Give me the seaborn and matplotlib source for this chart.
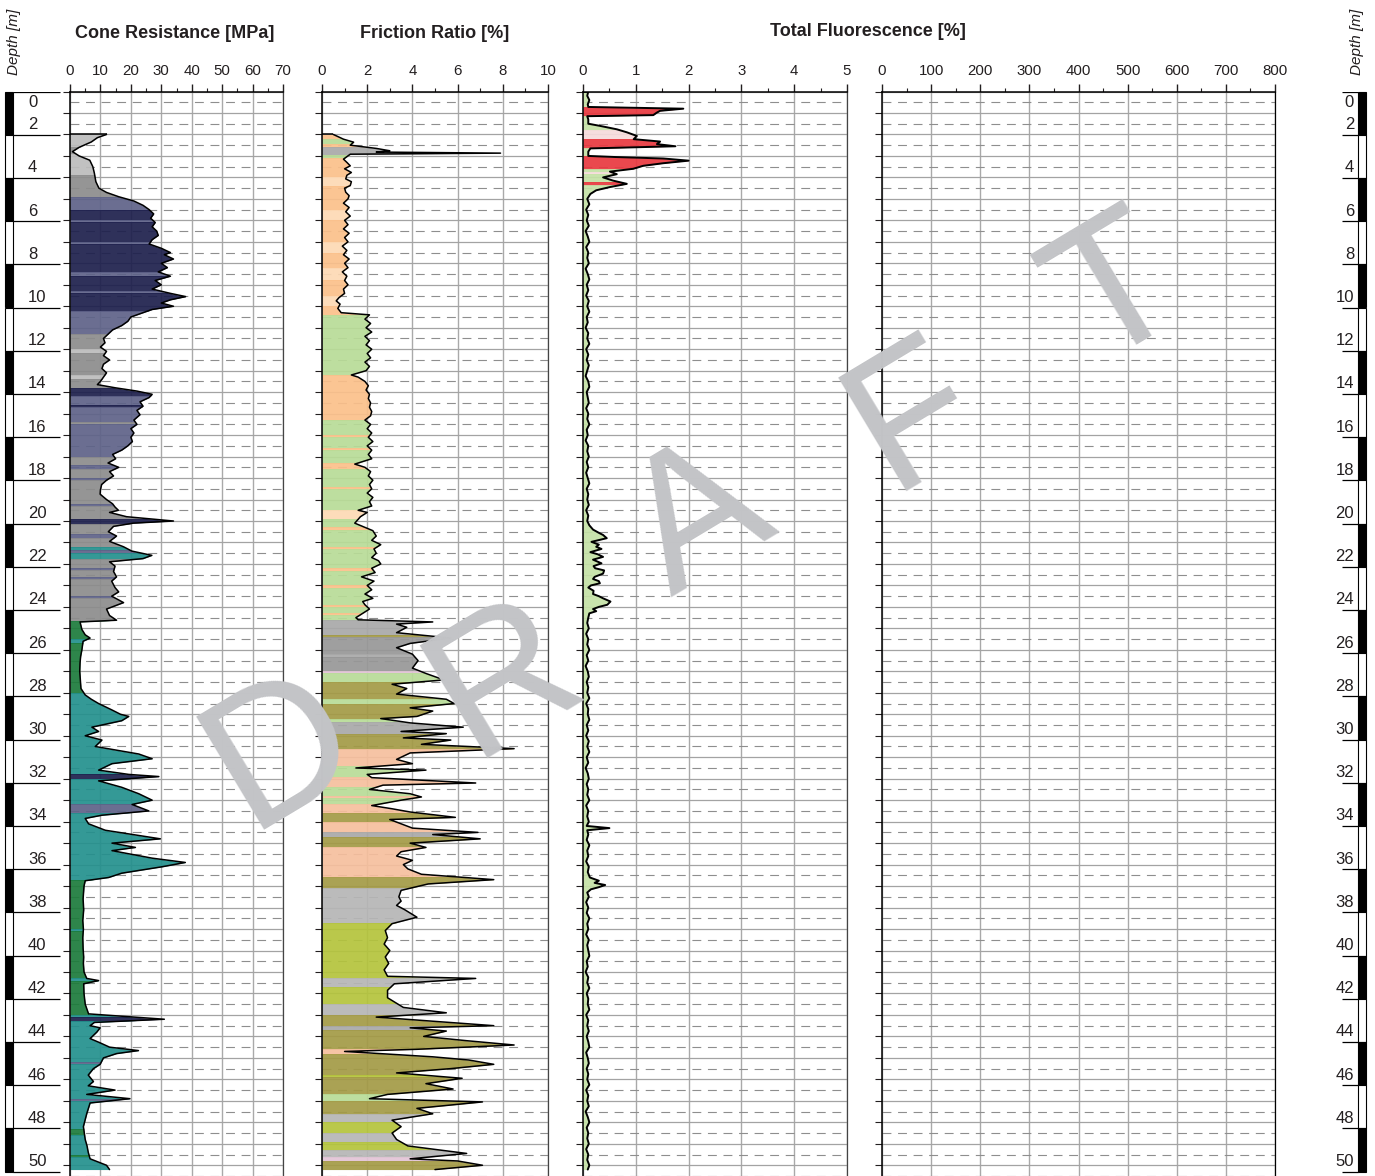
import numpy as np
import pandas as pd
import matplotlib
matplotlib.use("Agg")
import matplotlib.pyplot as plt
from matplotlib.patches import Rectangle
import seaborn as sns

# ---------------- DATA ----------------
depth_labels = list(range(0, 51, 2))
cone_ticks = [0, 10, 20, 30, 40, 50, 60, 70]
fr_ticks = [0, 2, 4, 6, 8, 10]
fl_ticks = [0, 1, 2, 3, 4, 5]
uv_ticks = [0, 100, 200, 300, 400, 500, 600, 700, 800]

titles = ["Cone Resistance [MPa]", "Friction Ratio [%]", "Total Fluorescence [%]"]

# (depth m, cone resistance MPa)
cone_readings = [
    (2.0, 12), (2.15, 9), (2.35, 7), (2.6, 3), (2.8, 0.8), (3.0, 3), (3.2, 6.5), (3.5, 7.5),
    (3.8, 8), (4.2, 8.5), (4.5, 9.5), (4.7, 12), (4.9, 16), (5.1, 21), (5.3, 24), (5.5, 26),
    (5.7, 27.5), (5.9, 26.5), (6.1, 28), (6.3, 27), (6.5, 28.5), (6.7, 29), (6.9, 27), (7.1, 26),
    (7.3, 30), (7.5, 33), (7.6, 31), (7.8, 34), (8.0, 30), (8.2, 32), (8.4, 29), (8.6, 33),
    (8.8, 28), (9.0, 30), (9.2, 27), (9.4, 33), (9.55, 38), (9.7, 33), (9.85, 30), (10.0, 34),
    (10.15, 27), (10.3, 24), (10.5, 20), (10.7, 19), (10.9, 17), (11.1, 14), (11.3, 12.5),
    (11.5, 11), (11.7, 11.5), (11.9, 10), (12.1, 12), (12.3, 11), (12.5, 13), (12.7, 11),
    (12.9, 10.5), (13.1, 12), (13.3, 11), (13.5, 10), (13.65, 9), (13.8, 15), (13.95, 22),
    (14.1, 27), (14.25, 26), (14.45, 23), (14.65, 24), (14.85, 22), (15.05, 23), (15.3, 21),
    (15.5, 22), (15.7, 20), (15.9, 21), (16.1, 20), (16.3, 20.5), (16.5, 19), (16.7, 17),
    (16.9, 14), (17.1, 15), (17.3, 12.5), (17.5, 16), (17.7, 13), (17.9, 14.3), (18.1, 12),
    (18.3, 10.4), (18.55, 10), (18.75, 9.9), (19.0, 12), (19.2, 14), (19.35, 14.8), (19.5, 15.9),
    (19.6, 13), (19.8, 18.6), (20.0, 34), (20.1, 20.8), (20.25, 14.3), (20.5, 12.6), (20.7, 15.3),
    (20.95, 13), (21.2, 17.6), (21.4, 20.3), (21.6, 26.9), (21.75, 24), (21.9, 13), (22.1, 14.8),
    (22.35, 14.3), (22.6, 15.3), (22.8, 13.7), (23.1, 14.8), (23.3, 16), (23.5, 13.7), (23.8, 17.6),
    (24.1, 12), (24.4, 13), (24.62, 15.3), (24.7, 3.3), (25.05, 3.9), (25.3, 5), (25.45, 6.6),
    (25.6, 4.3), (26.0, 3.9), (26.3, 3.5), (26.6, 3.3), (27.0, 3.2), (27.4, 3.4), (27.8, 3.6),
    (28.1, 5), (28.3, 7), (28.5, 9.4), (28.8, 13.8), (29.0, 16.6), (29.1, 19.3), (29.3, 17),
    (29.6, 7.2), (29.8, 9.4), (30.0, 5), (30.2, 10.5), (30.5, 8.3), (30.85, 22.6), (31.07, 27),
    (31.3, 13.8), (31.6, 9.4), (31.8, 19.3), (31.9, 29.2), (32.1, 9.4), (32.4, 17), (32.7, 22.6),
    (33.0, 27), (33.2, 20.4), (33.5, 25.9), (33.7, 10.5), (33.85, 5), (34.1, 6.1), (34.4, 11.6),
    (34.8, 29.7), (35.0, 13.8), (35.2, 21.5), (35.35, 13.8), (35.7, 27), (35.9, 37.9), (36.1, 30.3),
    (36.4, 17), (36.6, 12.7), (36.75, 5), (37.0, 4.6), (37.2, 4.5), (37.6, 4.3), (38.1, 4.5),
    (38.6, 4.2), (39.0, 4.4), (39.4, 4.2), (39.9, 4.3), (40.3, 4.5), (40.6, 4.4), (41.0, 4.6),
    (41.3, 5.5), (41.4, 9.4), (41.55, 4.5), (42.0, 4.6), (42.5, 5), (42.95, 6.1), (43.2, 31),
    (43.35, 8), (43.5, 6.6), (43.6, 9.9), (43.8, 8.8), (44.1, 6.6), (44.3, 9.9), (44.5, 13),
    (44.66, 22.5), (44.8, 15.3), (45.0, 11), (45.3, 9.9), (45.5, 7.7), (45.8, 6), (46.1, 7.7),
    (46.3, 6), (46.5, 14.8), (46.7, 5.5), (46.9, 19.7), (47.1, 6.6), (47.6, 5.5), (48.2, 4.4),
    (48.8, 5), (49.1, 5.6), (49.4, 6), (49.7, 6.6), (50.0, 12), (50.2, 13),
]

# (depth m, friction ratio %)
friction_readings = [
    (2.0, 0.5), (2.1, 0.7), (2.22, 0.95), (2.36, 1.4), (2.5, 1.25), (2.65, 2.4), (2.76, 3.0),
    (2.82, 2.4), (2.87, 7.9), (2.92, 1.25), (3.15, 0.95), (3.3, 1.1), (3.46, 1.25), (3.6, 1.0),
    (3.77, 1.3), (3.9, 1.1), (4.07, 1.05), (4.2, 1.3), (4.38, 1.25), (4.5, 1.0), (4.69, 1.05),
    (4.85, 1.2), (5.0, 1.15), (5.2, 0.95), (5.4, 1.2), (5.6, 1.05), (5.8, 1.25), (6.0, 1.0),
    (6.2, 1.15), (6.4, 0.95), (6.6, 1.2), (6.8, 1.0), (7.0, 1.15), (7.2, 0.9), (7.4, 1.1),
    (7.6, 0.95), (7.8, 1.2), (8.0, 1.0), (8.2, 1.15), (8.4, 0.9), (8.6, 1.1), (8.8, 1.0),
    (9.0, 1.15), (9.2, 0.95), (9.4, 1.0), (9.6, 0.75), (9.75, 0.63), (9.9, 0.8), (10.1, 0.7),
    (10.3, 0.85), (10.4, 2.1), (10.6, 1.9), (10.8, 2.15), (11.0, 1.95), (11.2, 2.2), (11.4, 1.9),
    (11.6, 2.1), (11.8, 1.95), (12.0, 2.2), (12.2, 2.0), (12.4, 2.15), (12.6, 1.9), (12.8, 2.1),
    (13.0, 1.95), (13.2, 1.3), (13.3, 1.6), (13.5, 1.9), (13.7, 2.05), (13.9, 1.95), (14.1, 2.1),
    (14.3, 2.05), (14.5, 2.15), (14.7, 2.1), (14.9, 2.2), (15.1, 2.15), (15.3, 1.9), (15.5, 2.15),
    (15.7, 2.0), (15.9, 2.2), (16.1, 2.05), (16.3, 2.25), (16.5, 2.0), (16.7, 2.2), (16.9, 2.05),
    (17.1, 2.2), (17.35, 1.45), (17.5, 1.9), (17.7, 2.15), (17.9, 2.05), (18.1, 2.25), (18.3, 2.1),
    (18.5, 2.2), (18.7, 2.0), (18.9, 2.25), (19.1, 2.1), (19.3, 2.2), (19.5, 1.6), (19.6, 2.0),
    (19.8, 1.7), (20.1, 1.45), (20.3, 1.9), (20.45, 2.25), (20.7, 2.4), (20.9, 2.2), (21.1, 2.6),
    (21.3, 2.3), (21.5, 2.4), (21.7, 2.2), (21.85, 2.5), (22.0, 2.6), (22.2, 2.2), (22.4, 2.35),
    (22.6, 1.75), (22.8, 2.3), (23.0, 2.0), (23.2, 2.2), (23.4, 1.9), (23.6, 2.25), (23.75, 1.8),
    (23.9, 1.9), (24.1, 2.1), (24.3, 1.8), (24.5, 1.5), (24.6, 1.6), (24.7, 4.9), (24.8, 3.3),
    (24.95, 3.75), (25.2, 3.3), (25.45, 5.7), (25.7, 3.9), (25.9, 3.3), (26.2, 4.0), (26.5, 4.25),
    (26.85, 4.0), (27.1, 4.6), (27.4, 5.4), (27.6, 3.1), (27.8, 3.75), (28.06, 3.3), (28.3, 5.5),
    (28.5, 5.85), (28.7, 3.9), (28.85, 4.9), (29.1, 4.2), (29.2, 2.6), (29.4, 3.9), (29.6, 6.25),
    (29.8, 3.5), (29.9, 5.5), (30.1, 3.6), (30.2, 5.7), (30.4, 4.4), (30.6, 8.5), (30.8, 3.9),
    (31.1, 3.3), (31.3, 4.0), (31.5, 1.5), (31.6, 4.6), (31.8, 2.0), (31.95, 2.2), (32.2, 6.8),
    (32.3, 2.7), (32.5, 2.1), (32.7, 3.9), (32.85, 4.4), (33.0, 3.5), (33.25, 2.2), (33.4, 3.1),
    (33.55, 3.9), (33.8, 5.9), (33.9, 3.0), (34.1, 3.5), (34.3, 4.0), (34.5, 6.9), (34.6, 4.9),
    (34.8, 7.0), (35.0, 3.9), (35.2, 4.6), (35.4, 3.5), (35.6, 3.3), (35.8, 4.0), (36.0, 3.6),
    (36.2, 3.8), (36.45, 4.4), (36.7, 7.6), (36.9, 4.7), (37.2, 3.5), (37.5, 3.4), (37.7, 3.5),
    (37.9, 3.3), (38.1, 3.66), (38.45, 4.2), (38.75, 3.1), (39.07, 2.8), (39.4, 2.9), (39.7, 2.75),
    (40.0, 3.0), (40.3, 2.8), (40.6, 2.95), (40.9, 2.75), (41.2, 2.9), (41.3, 6.8), (41.55, 3.2),
    (41.85, 2.9), (42.2, 2.9), (42.65, 3.6), (42.9, 5.5), (43.1, 2.4), (43.5, 7.6), (43.6, 3.9),
    (43.75, 5.5), (44.0, 4.5), (44.2, 6.4), (44.4, 8.5), (44.6, 4.2), (44.7, 1.0), (44.95, 4.9),
    (45.1, 6.5), (45.3, 7.6), (45.5, 5.7), (45.7, 3.3), (45.95, 6.2), (46.2, 4.6), (46.45, 5.8),
    (46.7, 2.9), (46.9, 2.1), (47.05, 7.1), (47.35, 4.2), (47.6, 4.9), (47.9, 3.1), (48.2, 3.5),
    (48.5, 3.1), (48.8, 3.3), (49.1, 3.8), (49.45, 6.4), (49.7, 3.9), (49.8, 6.0), (50.0, 7.1),
    (50.2, 5.0),
]

# (depth m, total fluorescence %)
fluor_readings = [
    (0.0, 0.1), (0.2, 0.08), (0.4, 0.12), (0.6, 0.09), (0.72, 0.1), (0.8, 1.9), (0.9, 1.46),
    (0.98, 1.4), (1.1, 1.33), (1.15, 0.08), (1.3, 0.1), (1.5, 0.1), (1.6, 0.32), (1.76, 0.64),
    (1.9, 0.83), (2.07, 1.02), (2.22, 0.96), (2.33, 1.46), (2.45, 1.4), (2.55, 1.75), (2.65, 0.14),
    (2.8, 0.1), (3.0, 0.1), (3.05, 0.6), (3.12, 1.52), (3.22, 2.0), (3.34, 1.52), (3.46, 1.14),
    (3.6, 0.95), (3.73, 0.51), (3.85, 0.64), (4.0, 0.38), (4.15, 0.57), (4.3, 0.83), (4.45, 0.51),
    (4.6, 0.25), (4.77, 0.14),
    (5.0, 0.08), (5.25, 0.12), (5.5, 0.06), (5.75, 0.1), (6.0, 0.07), (6.25, 0.11), (6.5, 0.05),
    (6.75, 0.09), (7.0, 0.12), (7.25, 0.06), (7.5, 0.1), (7.75, 0.08), (8.0, 0.11), (8.25, 0.05),
    (8.5, 0.09), (8.75, 0.12), (9.0, 0.07), (9.25, 0.1), (9.5, 0.06), (9.75, 0.11), (10.0, 0.08),
    (10.25, 0.12), (10.5, 0.07), (10.75, 0.09), (11.0, 0.05), (11.25, 0.1), (11.5, 0.08),
    (11.75, 0.12), (12.0, 0.06), (12.25, 0.1), (12.5, 0.07), (12.75, 0.11), (13.0, 0.08),
    (13.25, 0.05), (13.5, 0.1), (13.75, 0.12), (14.0, 0.07), (14.25, 0.09), (14.5, 0.11),
    (14.75, 0.06), (15.0, 0.1), (15.25, 0.08), (15.5, 0.12), (15.75, 0.07), (16.0, 0.09),
    (16.25, 0.05), (16.5, 0.1), (16.75, 0.08), (17.0, 0.11), (17.25, 0.07), (17.5, 0.1),
    (17.75, 0.06), (18.0, 0.09), (18.25, 0.12), (18.5, 0.07), (18.75, 0.1), (19.0, 0.08),
    (19.25, 0.11), (19.5, 0.06), (19.75, 0.1), (20.0, 0.08), (20.2, 0.12),
    (20.4, 0.19), (20.55, 0.3), (20.65, 0.38), (20.8, 0.45), (20.97, 0.16), (21.1, 0.3),
    (21.2, 0.25), (21.3, 0.35), (21.45, 0.14), (21.55, 0.28), (21.67, 0.38), (21.8, 0.19),
    (21.97, 0.35), (22.1, 0.2), (22.2, 0.23), (22.3, 0.4), (22.45, 0.38), (22.6, 0.22),
    (22.7, 0.19), (22.8, 0.3), (22.9, 0.32), (23.0, 0.15), (23.1, 0.1), (23.25, 0.2),
    (23.4, 0.19), (23.5, 0.3), (23.6, 0.38), (23.75, 0.52), (23.9, 0.46), (24.0, 0.3),
    (24.1, 0.19), (24.2, 0.25), (24.3, 0.12), (24.5, 0.1), (24.75, 0.08),
    (25.0, 0.11), (25.25, 0.06), (25.5, 0.1), (25.75, 0.08), (26.0, 0.12), (26.25, 0.07),
    (26.5, 0.1), (26.75, 0.05), (27.0, 0.09), (27.25, 0.11), (27.5, 0.07), (27.75, 0.1),
    (28.0, 0.08), (28.25, 0.12), (28.5, 0.06), (28.75, 0.1), (29.0, 0.09), (29.25, 0.12),
    (29.5, 0.07), (29.75, 0.1), (30.0, 0.06), (30.25, 0.11), (30.5, 0.08), (30.75, 0.12),
    (31.0, 0.07), (31.25, 0.1), (31.5, 0.05), (31.75, 0.09), (32.0, 0.11), (32.25, 0.07),
    (32.5, 0.1), (32.75, 0.08), (33.0, 0.12), (33.25, 0.06), (33.5, 0.1), (33.75, 0.08),
    (34.0, 0.11), (34.2, 0.07), (34.3, 0.5), (34.4, 0.08), (34.6, 0.1), (34.85, 0.07),
    (35.1, 0.12), (35.35, 0.08), (35.6, 0.1), (35.85, 0.06), (36.1, 0.11), (36.35, 0.09),
    (36.6, 0.13), (36.75, 0.3), (36.85, 0.22), (36.95, 0.42), (37.05, 0.3), (37.15, 0.15),
    (37.3, 0.08), (37.5, 0.11), (37.75, 0.06), (38.0, 0.1), (38.25, 0.07), (38.5, 0.12),
    (38.75, 0.08), (39.0, 0.1), (39.25, 0.06), (39.5, 0.11), (39.75, 0.08), (40.0, 0.1),
    (40.25, 0.12), (40.5, 0.07), (40.75, 0.09), (41.0, 0.05), (41.25, 0.1), (41.5, 0.08),
    (41.75, 0.12), (42.0, 0.07), (42.25, 0.1), (42.5, 0.09), (42.75, 0.12), (43.0, 0.06),
    (43.25, 0.1), (43.5, 0.08), (43.75, 0.11), (44.0, 0.07), (44.25, 0.1), (44.5, 0.12),
    (44.75, 0.06), (45.0, 0.09), (45.25, 0.11), (45.5, 0.07), (45.75, 0.1), (46.0, 0.08),
    (46.25, 0.12), (46.5, 0.06), (46.75, 0.1), (47.0, 0.08), (47.25, 0.11), (47.5, 0.05),
    (47.75, 0.09), (48.0, 0.12), (48.25, 0.07), (48.5, 0.1), (48.75, 0.08), (49.0, 0.11),
    (49.25, 0.06), (49.5, 0.1), (49.75, 0.08), (50.0, 0.12), (50.2, 0.09),
]

# soil-behaviour zones (top m, base m, class) for each track
cone_zones = [
    (2.0, 2.6, "silt_l"), (2.6, 2.9, "silt"), (2.9, 3.9, "silt_l"), (3.9, 4.9, "silt"),
    (4.9, 5.5, "sand_mix"), (5.5, 6.0, "sand"), (6.0, 6.1, "sand_mix"), (6.1, 7.0, "sand"),
    (7.0, 7.1, "sand_mix"), (7.1, 8.4, "sand"), (8.4, 8.6, "sand_mix"), (8.6, 9.3, "sand"),
    (9.3, 9.4, "sand_mix"), (9.4, 10.2, "sand"), (10.2, 11.3, "sand_mix"), (11.3, 12.0, "silt"),
    (12.0, 12.2, "silt_l"), (12.2, 13.2, "silt"), (13.2, 13.4, "silt_l"), (13.4, 13.8, "silt"),
    (13.8, 14.2, "sand"), (14.2, 14.6, "sand_mix"), (14.6, 14.7, "sand"), (14.7, 15.4, "sand_mix"),
    (15.4, 15.5, "silt"), (15.5, 17.0, "sand_mix"), (17.0, 17.4, "silt"), (17.4, 17.6, "sand_mix"),
    (17.6, 18.0, "silt"), (18.0, 18.1, "sand_mix"), (18.1, 19.2, "silt"), (19.2, 19.3, "sand_mix"),
    (19.3, 19.9, "silt"), (19.9, 20.15, "sand"), (20.15, 20.6, "silt"), (20.6, 20.8, "sand_mix"),
    (20.8, 21.2, "silt"), (21.2, 21.35, "silty_clay"), (21.35, 21.5, "sand_mix"),
    (21.5, 21.75, "silty_clay"), (21.75, 22.2, "silt"), (22.2, 22.3, "sand_mix"), (22.3, 22.6, "silt"),
    (22.6, 22.7, "sand_mix"), (22.7, 23.5, "silt"), (23.5, 23.6, "sand_mix"), (23.6, 24.65, "silt"),
    (24.65, 25.5, "clay"), (25.5, 25.7, "silty_clay"), (25.7, 28.0, "clay"),
    (28.0, 31.8, "silty_clay"), (31.8, 32.0, "sand"), (32.0, 33.2, "silty_clay"),
    (33.2, 33.6, "sand_mix"), (33.6, 36.7, "silty_clay"), (36.7, 39.0, "clay"),
    (39.0, 39.1, "silty_clay"), (39.1, 41.3, "clay"), (41.3, 41.4, "silty_clay"), (41.4, 43.0, "clay"),
    (43.0, 43.1, "silty_clay"), (43.1, 43.3, "sand"), (43.3, 45.2, "silty_clay"),
    (45.2, 45.3, "sand_mix"), (45.3, 46.9, "silty_clay"), (46.9, 47.0, "sand_mix"),
    (47.0, 48.3, "silty_clay"), (48.3, 48.6, "clay"), (48.6, 49.5, "silty_clay"),
    (49.5, 49.6, "clay"), (49.6, 50.3, "silty_clay"),
]

friction_zones = [
    (2.0, 2.2, "peach"), (2.2, 2.45, "green"), (2.45, 2.6, "peach"), (2.6, 2.95, "grey"),
    (2.95, 3.1, "green"), (3.1, 4.0, "peach"), (4.0, 4.4, "peach_l"), (4.4, 5.5, "peach"),
    (5.5, 6.0, "peach_l"), (6.0, 7.0, "peach"), (7.0, 7.5, "peach_l"), (7.5, 8.2, "peach"),
    (8.2, 8.8, "peach_l"), (8.8, 9.5, "peach"), (9.5, 10.0, "peach_l"), (10.0, 10.4, "peach"),
    (10.4, 13.2, "green"), (13.2, 15.3, "peach"), (15.3, 16.0, "green"), (16.0, 16.1, "peach"),
    (16.1, 16.6, "green"), (16.6, 16.7, "peach"), (16.7, 17.3, "green"), (17.3, 17.6, "peach"),
    (17.6, 18.4, "green"), (18.4, 18.5, "peach"), (18.5, 19.5, "green"), (19.5, 19.9, "peach_l"),
    (19.9, 20.3, "green"), (20.3, 20.4, "peach"), (20.4, 21.2, "green"), (21.2, 21.3, "peach"),
    (21.3, 22.2, "green"), (22.2, 22.35, "peach"), (22.35, 23.0, "green"), (23.0, 23.1, "peach"),
    (23.1, 23.9, "green"), (23.9, 24.0, "peach"), (24.0, 24.3, "green"), (24.3, 24.4, "peach"),
    (24.4, 24.6, "green"), (24.6, 25.3, "grey"), (25.3, 25.4, "olive"), (25.4, 26.2, "grey_d"),
    (26.2, 26.35, "grey"), (26.35, 27.0, "grey_d"), (27.0, 27.1, "pink"), (27.1, 27.5, "green"),
    (27.5, 28.3, "olive"), (28.3, 28.5, "green"), (28.5, 29.2, "olive"), (29.2, 29.35, "green"),
    (29.35, 29.9, "grey"), (29.9, 30.6, "olive"), (30.6, 31.4, "salmon"), (31.4, 31.9, "green"),
    (31.9, 32.4, "salmon"), (32.4, 32.8, "green"), (32.8, 32.9, "salmon"), (32.9, 33.2, "green"),
    (33.2, 33.6, "salmon"), (33.6, 34.0, "olive"), (34.0, 34.5, "salmon"), (34.5, 34.7, "grey"),
    (34.7, 35.2, "olive"), (35.2, 36.6, "salmon"), (36.6, 37.1, "olive"), (37.1, 38.7, "grey_l"),
    (38.7, 41.3, "yellowgreen"), (41.3, 41.7, "grey_l"), (41.7, 42.5, "yellowgreen"),
    (42.5, 43.0, "grey_l"), (43.0, 43.5, "olive"), (43.5, 43.7, "grey"), (43.7, 44.6, "olive"),
    (44.6, 44.8, "salmon"), (44.8, 45.8, "olive"), (45.8, 45.9, "yellowgreen"), (45.9, 46.7, "olive"),
    (46.7, 47.0, "green"), (47.0, 47.6, "olive"), (47.6, 48.0, "grey_l"), (48.0, 48.5, "yellowgreen"),
    (48.5, 48.9, "grey_l"), (48.9, 49.3, "yellowgreen"), (49.3, 49.6, "grey_l"), (49.6, 49.8, "pink"),
    (49.8, 50.3, "olive"),
]

fluor_zones = [
    (0.0, 0.72, "low"), (0.72, 1.15, "high"), (1.15, 1.8, "low"), (1.8, 2.2, "pale"),
    (2.2, 2.65, "high"), (2.65, 3.0, "low"), (3.0, 3.6, "high"), (3.6, 3.75, "low"),
    (3.75, 3.85, "pale"), (3.85, 4.2, "low"), (4.2, 4.35, "high"), (4.35, 50.3, "low"),
]

# ---------------- STYLE ----------------
cone_palette = {"sand": "#1d1f4c", "sand_mix": "#5e6288", "silt": "#8c8c8c", "silt_l": "#bcbcbc",
                "silty_clay": "#23908d", "clay": "#1c7b3b"}
friction_palette = {"peach": "#fbc08a", "peach_l": "#fdd9b4", "green": "#b8dc97", "grey": "#a8a8a8",
                    "grey_d": "#979797", "grey_l": "#b6b6b6", "olive": "#a39a45", "pink": "#e2c4d6",
                    "salmon": "#f6bf9d", "yellowgreen": "#b4c43c"}
fluor_palette = {"low": "#c5e2a6", "high": "#e9383f", "pale": "#f6dcdc"}

sns.set_theme(style="white")
plt.rcParams['font.family'] = ['Liberation Sans', 'DejaVu Sans']
TXT = "#231f20"

W, H = 1375, 1176
TOP = 91.5
DEPTH_MAX = (H - TOP) / 21.6
fig = plt.figure(figsize=(W / 100, H / 100), dpi=100)


def px_axes(x0, x1):
    return fig.add_axes([x0 / W, 0, (x1 - x0) / W, (H - TOP) / H])


def setup_panel(ax, ticks, minor_step):
    xmax = ticks[-1]
    ax.set_xlim(0, xmax)
    ax.set_ylim(DEPTH_MAX, 0)
    ax.xaxis.tick_top()
    ax.set_xticks(ticks)
    ax.set_xticklabels([str(t) for t in ticks])
    ax.set_xticks(np.arange(0, xmax + minor_step / 2, minor_step), minor=True)
    ax.set_yticks(np.arange(0, 51, 1))
    ax.set_yticks(np.arange(0.5, 51, 1), minor=True)
    ax.tick_params(axis='x', which='major', direction='out', length=6, width=1.0, pad=4,
                   labelsize=10.8, colors=TXT, top=True, bottom=False, labeltop=True, labelbottom=False)
    ax.tick_params(axis='x', which='minor', direction='out', length=3, width=0.8, top=True,
                   bottom=False, colors=TXT)
    ax.tick_params(axis='y', which='major', direction='out', length=5, width=0.8, left=True,
                   right=False, labelleft=False, colors=TXT)
    ax.tick_params(axis='y', which='minor', length=0)
    ax.grid(True, axis='x', which='major', color='#a9a9a9', lw=1.0)
    ax.grid(True, axis='y', which='major', color='#a3a3a3', lw=0.9)
    ax.grid(True, axis='y', which='minor', color='#8e8e8e', lw=0.8, ls=(0, (8, 6)))
    ax.set_axisbelow(True)
    for side in ['left', 'top']:
        ax.spines[side].set_color('black')
        ax.spines[side].set_linewidth(1.1)
    ax.spines['right'].set_color('#444444')
    ax.spines['right'].set_linewidth(0.9)
    ax.spines['bottom'].set_visible(False)
    ax.set_xlabel("")
    ax.set_ylabel("")


def draw_track(ax, readings, zones, palette, xmax, lw):
    df = pd.DataFrame(readings, columns=["depth", "value"])
    for top, base, cls in zones:
        poly = ax.fill_betweenx(df["depth"], 0, df["value"], color=palette[cls], lw=0,
                                alpha=0.92, zorder=2)
        poly.set_clip_path(Rectangle((0, top), xmax, base - top, transform=ax.transData))
    sns.lineplot(data=df, x="value", y="depth", orient="y", sort=False, estimator=None,
                 color="black", lw=lw, ax=ax, zorder=3)
    ax.hlines(df["depth"].iloc[0], 0, df["value"].iloc[0], color="black", lw=lw, zorder=3)


ax1 = px_axes(70, 283)
ax2 = px_axes(322, 548)
ax3 = px_axes(583, 847)
ax4 = px_axes(882, 1275)

draw_track(ax1, cone_readings, cone_zones, cone_palette, cone_ticks[-1], 1.1)
draw_track(ax2, friction_readings, friction_zones, friction_palette, fr_ticks[-1], 1.1)
draw_track(ax3, fluor_readings, fluor_zones, fluor_palette, fl_ticks[-1], 1.4)

setup_panel(ax1, cone_ticks, 5)
setup_panel(ax2, fr_ticks, 1)
setup_panel(ax3, fl_ticks, 0.5)
setup_panel(ax4, uv_ticks, 50)
ax4.spines['right'].set_color('black')

# titles
fig.text(175 / W, 1 - 33 / H, titles[0], ha='center', va='center', fontsize=13, fontweight='bold', color=TXT)
fig.text(435 / W, 1 - 33 / H, titles[1], ha='center', va='center', fontsize=13, fontweight='bold', color=TXT)
fig.text(868 / W, 1 - 31 / H, titles[2], ha='center', va='center', fontsize=13, fontweight='bold', color=TXT)

# depth scales
axL = fig.add_axes([5 / W, 0, 57 / W, (H - TOP) / H])
axL.set_xlim(0, 57)
axL.set_ylim(DEPTH_MAX, 0)
axL.axis('off')
axR = fig.add_axes([1318 / W, 0, 50 / W, (H - TOP) / H])
axR.set_xlim(0, 50)
axR.set_ylim(DEPTH_MAX, 0)
axR.axis('off')
for i, d in enumerate(depth_labels[:-1]):
    fc = 'black' if i % 2 == 0 else 'white'
    axL.add_patch(Rectangle((0, d), 8, 2, facecolor=fc, edgecolor='black', lw=0.8, clip_on=False))
    axR.add_patch(Rectangle((40, d), 8, 2, facecolor=fc, edgecolor='black', lw=0.8, clip_on=False))
axL.hlines(depth_labels, 8, 55, color='black', lw=0.9)
axR.hlines(depth_labels, 24, 40, color='black', lw=0.9)
for d in depth_labels:
    if d == 0:
        axL.text(23, 0.15, str(d), ha='left', va='top', fontsize=12, color=TXT)
        axR.text(36, 0.15, str(d), ha='right', va='top', fontsize=12, color=TXT)
    else:
        axL.text(23, d - 0.12, str(d), ha='left', va='bottom', fontsize=12, color=TXT)
        axR.text(36, d - 0.12, str(d), ha='right', va='bottom', fontsize=12, color=TXT)

fig.text(14 / W, 1 - 42 / H, "Depth [m]", rotation=90, ha='center', va='center', fontsize=11,
         style='italic', color=TXT)
fig.text(1357 / W, 1 - 42 / H, "Depth [m]", rotation=90, ha='center', va='center', fontsize=11,
         style='italic', color=TXT)

# DRAFT watermark
for ch, (cx, cy) in zip("DRAFT", [(282, 752), (505, 680), (700, 522), (915, 418), (1118, 295)]):
    fig.text(cx / W, 1 - cy / H, ch, rotation=31, ha='center', va='center', fontsize=138,
             color='#c3c4c7', zorder=10, rotation_mode='anchor')

fig.savefig("out.png", dpi=100)
